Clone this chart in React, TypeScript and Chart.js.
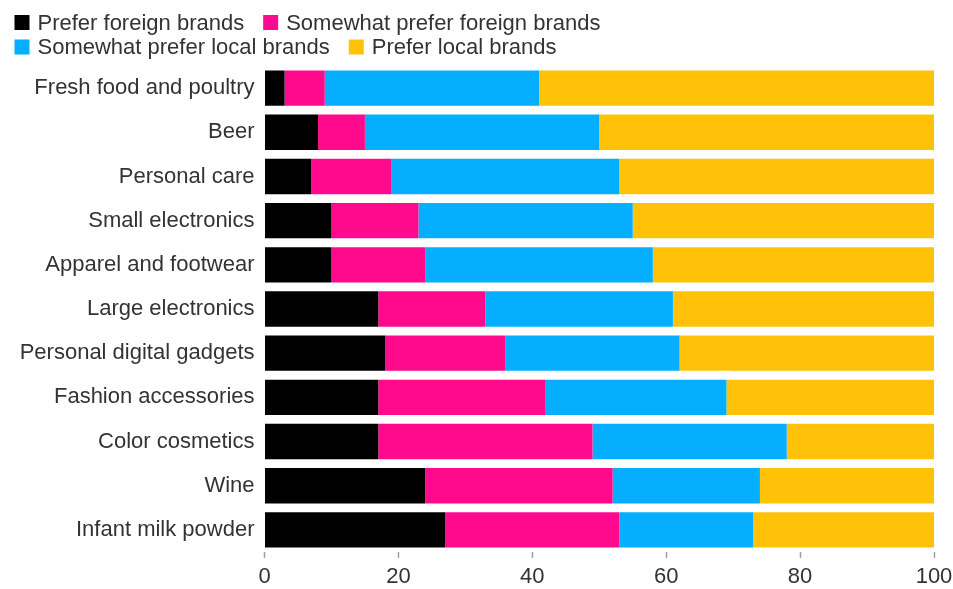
import React, { useEffect, useRef } from 'react';
import { Chart, registerables } from 'chart.js';

Chart.register(...registerables);

const categories = [
  'Fresh food and poultry',
  'Beer',
  'Personal care',
  'Small electronics',
  'Apparel and footwear',
  'Large electronics',
  'Personal digital gadgets',
  'Fashion accessories',
  'Color cosmetics',
  'Wine',
  'Infant milk powder',
];

const preferForeign = [3, 8, 7, 10, 10, 17, 18, 17, 17, 24, 27];
const somewhatForeign = [6, 7, 12, 13, 14, 16, 18, 25, 32, 28, 26];
const somewhatLocal = [32, 35, 34, 32, 34, 28, 26, 27, 29, 22, 20];
const preferLocal = [59, 50, 47, 45, 42, 39, 38, 31, 22, 26, 27];

const seriesLabels = [
  'Prefer foreign brands',
  'Somewhat prefer foreign brands',
  'Somewhat prefer local brands',
  'Prefer local brands',
];
const seriesColors = ['#000000', '#ff0a8c', '#05aeff', '#ffc208'];

const xMin = 0;
const xMax = 100;
const xStep = 20;

const FONT_FAMILY = '"Liberation Sans", Arial, Helvetica, sans-serif';
const TEXT_COLOR = '#333333';

const legendRows = [
  [0, 1],
  [2, 3],
];

const rowLegendPlugin = {
  id: 'rowLegend',
  afterDraw(chart: any) {
    const ctx = chart.ctx;
    ctx.save();
    ctx.font = `22px ${FONT_FAMILY}`;
    ctx.textBaseline = 'middle';
    ctx.textAlign = 'left';
    const rowY = [22.5, 47];
    legendRows.forEach((row, r) => {
      let x = 14.5;
      row.forEach((i) => {
        const ds = chart.data.datasets[i];
        ctx.fillStyle = ds.backgroundColor;
        ctx.fillRect(x, rowY[r] - 7.5, 15, 15);
        x += 23;
        ctx.fillStyle = TEXT_COLOR;
        ctx.fillText(ds.label, x, rowY[r] + 1.3);
        x += ctx.measureText(ds.label).width + 19;
      });
    });
    ctx.restore();
  },
};

export default function App() {
  const canvasRef = useRef<HTMLCanvasElement | null>(null);

  useEffect(() => {
    if (!canvasRef.current) return;
    const values = [preferForeign, somewhatForeign, somewhatLocal, preferLocal];
    const chart = new Chart(canvasRef.current, {
      type: 'bar',
      data: {
        labels: categories,
        datasets: values.map((data, i) => ({
          label: seriesLabels[i],
          data,
          backgroundColor: seriesColors[i],
          borderWidth: 0,
          barPercentage: 0.8,
          categoryPercentage: 1,
        })),
      },
      options: {
        indexAxis: 'y',
        responsive: false,
        animation: false,
        layout: {
          padding: { top: 66, right: 19, bottom: 0, left: 0 },
        },
        plugins: {
          legend: { display: false },
          tooltip: { enabled: false },
          title: { display: false },
        },
        scales: {
          x: {
            stacked: true,
            min: xMin,
            max: xMax,
            ticks: {
              stepSize: xStep,
              color: TEXT_COLOR,
              font: { family: FONT_FAMILY, size: 22 },
              padding: 6,
              maxRotation: 0,
            },
            grid: {
              drawOnChartArea: false,
              drawTicks: true,
              tickLength: 6,
              tickColor: '#a0a0a0',
              tickWidth: 1.5,
            },
            border: { display: false },
            afterFit: (scale: any) => {
              scale.height = 37;
              scale.paddingLeft = 0;
              scale.paddingRight = 0;
            },
          },
          y: {
            stacked: true,
            ticks: {
              color: TEXT_COLOR,
              font: { family: FONT_FAMILY, size: 22 },
              padding: 10,
              autoSkip: false,
            },
            grid: { display: false, drawTicks: false },
            border: { display: false },
            afterFit: (scale: any) => {
              scale.width = 264.5;
              scale.paddingTop = 0;
              scale.paddingBottom = 0;
            },
          },
        },
      },
      plugins: [rowLegendPlugin],
    });
    return () => chart.destroy();
  }, []);

  return (
    <div
      style={{
        position: 'fixed',
        left: 0,
        top: 0,
        width: 953,
        height: 589,
        background: '#ffffff',
      }}
    >
      <canvas ref={canvasRef} width={953} height={589} />
    </div>
  );
}
